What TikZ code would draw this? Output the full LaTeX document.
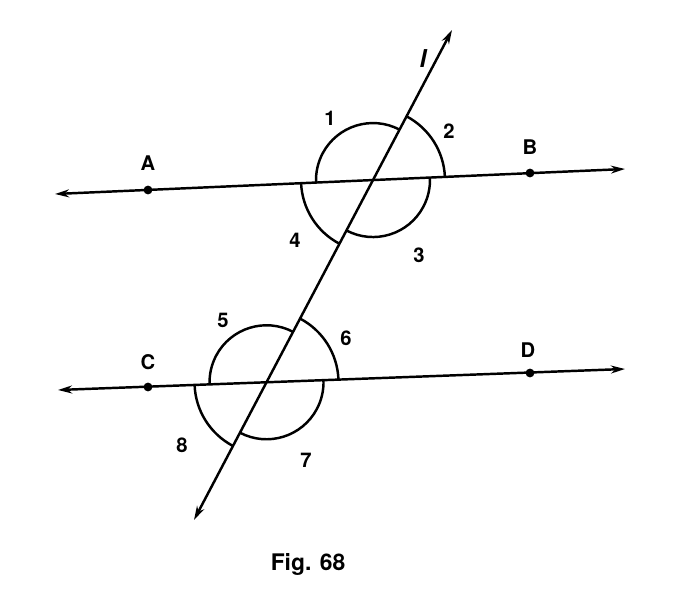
\documentclass[tikz,border=0pt]{standalone}
\usepackage{fontspec}
\setsansfont{TeX Gyre Heros}
\usetikzlibrary{arrows.meta,intersections}

\begin{document}
\begin{tikzpicture}[x=0.02cm,y=0.02cm,line width=1.4pt,
    dot/.style={circle,fill,inner sep=0pt,minimum size=5pt},
    lbl/.style={font=\sffamily\bfseries\fontsize{11.5}{13}\selectfont},
    both/.style={{Stealth[length=8pt,width=4.5pt]}-{Stealth[length=8pt,width=4.5pt]}}]
  \useasboundingbox (0,0) rectangle (674,606);
  % ends of the three lines
  \coordinate (ABw) at (55,412); \coordinate (ABe) at (625,437);
  \coordinate (CDw) at (58,216); \coordinate (CDe) at (625,237);
  \coordinate (lb) at (194,86); \coordinate (lt) at (452,576);
  \draw[both,name path=ab] (ABw) -- (ABe);
  \draw[both,name path=cd] (CDw) -- (CDe);
  \draw[both,name path=l] (lb) -- (lt);
  \path[name intersections={of=ab and l,by=P}];
  \path[name intersections={of=cd and l,by=Q}];
  % points
  \node[dot] (A) at (148,416){}; \node[dot] (B) at (530,433){};
  \node[dot] (C) at (148,219){}; \node[dot] (D) at (530,233){};
  \node[lbl] (Al) at (148,443){A}; \node[lbl] (Bl) at (530,459){B};
  \node[lbl] (Cl) at (148,244){C}; \node[lbl] (Dl) at (528,256){D};
  \node[font=\sffamily\bfseries\itshape\fontsize{14}{16}\selectfont] (ll) at (423,547){l};
  % angle marks at P
  \draw ([shift={(62.14:1.14cm)}]P) arc[start angle=62.14,end angle=182.55,radius=1.14cm];
  \draw ([shift={(2.55:1.44cm)}]P) arc[start angle=2.55,end angle=62.14,radius=1.44cm];
  \draw ([shift={(-117.86:1.14cm)}]P) arc[start angle=-117.86,end angle=2.55,radius=1.14cm];
  \draw ([shift={(182.55:1.44cm)}]P) arc[start angle=182.55,end angle=242.14,radius=1.44cm];
  % angle marks at Q
  \draw ([shift={(62.14:1.14cm)}]Q) arc[start angle=62.14,end angle=182.10,radius=1.14cm];
  \draw ([shift={(2.10:1.44cm)}]Q) arc[start angle=2.10,end angle=62.14,radius=1.44cm];
  \draw ([shift={(-117.86:1.14cm)}]Q) arc[start angle=-117.86,end angle=2.10,radius=1.14cm];
  \draw ([shift={(182.10:1.44cm)}]Q) arc[start angle=182.10,end angle=242.14,radius=1.44cm];
  % angle numbers
  \node[lbl] (n1) at (330,488){1}; \node[lbl] (n2) at (449,475){2};
  \node[lbl] (n3) at (419,351){3}; \node[lbl] (n4) at (295,366){4};
  \node[lbl] (n5) at (223,286){5}; \node[lbl] (n6) at (346,268){6};
  \node[lbl] (n7) at (306,146){7}; \node[lbl] (n8) at (182,161){8};
  \node[font=\sffamily\bfseries\fontsize{13}{15}\selectfont] (fig) at (308,42){Fig. 68};
\end{tikzpicture}
\end{document}
